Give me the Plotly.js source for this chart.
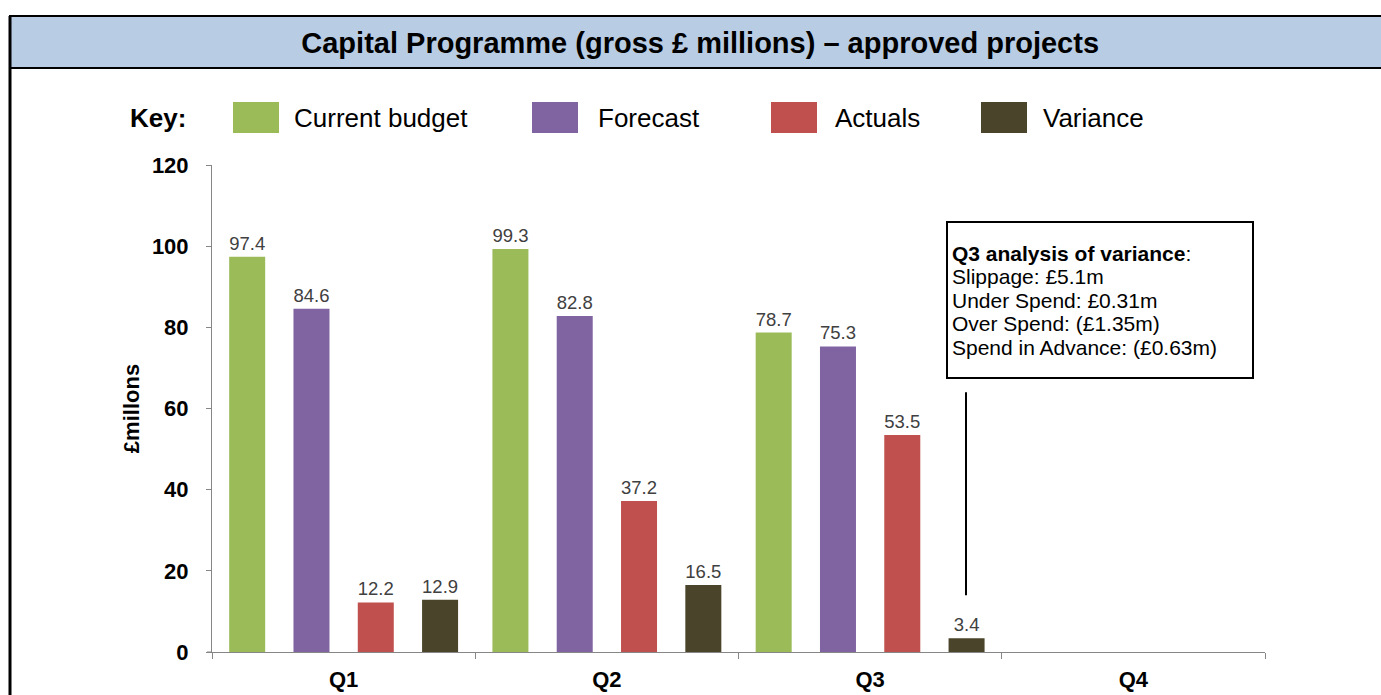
<!DOCTYPE html>
<html>
<head>
<meta charset="utf-8">
<script src="https://cdn.plot.ly/plotly-3.0.1.min.js"></script>
<style>
html,body{margin:0;padding:0;background:#fff;}
#chart{width:1381px;height:695px;}
</style>
</head>
<body>
<div id="chart"></div>
<script>
// ---- data ----
const quarters = ['Q1', 'Q2', 'Q3', 'Q4'];
const seriesNames = ['Current budget', 'Forecast', 'Actuals', 'Variance'];
const seriesColors = ['#9BBB59', '#8064A2', '#C0504D', '#4A452A'];
const currentBudget = [97.4, 99.3, 78.7, null];
const forecast = [84.6, 82.8, 75.3, null];
const actuals = [12.2, 37.2, 53.5, null];
const variance = [12.9, 16.5, 3.4, null];
const yTicks = [0, 20, 40, 60, 80, 100, 120];
const titleText = 'Capital Programme (gross £ millions) – approved projects';
const yTitle = '£millons';
const noteLines = ['<b>Q3 analysis of variance</b>:', 'Slippage: £5.1m', 'Under Spend: £0.31m', 'Over Spend: (£1.35m)', 'Spend in Advance: (£0.63m)'];

const seriesValues = [currentBudget, forecast, actuals, variance];
const FONT = 'Arial, "Liberation Sans", sans-serif';

// layout geometry (pixel helpers)
const W = 1381, H = 695;
const mL = 212, mR = 116, mT = 165, mB = 43;
const pw = W - mL - mR, ph = H - mT - mB;
const px = v => (v - mL) / pw;          // pixel x -> paper
const py = v => (H - mB - v) / ph;      // pixel y -> paper

const traces = seriesNames.map((name, i) => ({
  type: 'bar',
  name: name,
  x: quarters,
  y: seriesValues[i],
  marker: {color: seriesColors[i], line: {width: 0}},
  text: seriesValues[i].map(v => v == null ? '' : v.toFixed(1)),
  textposition: 'outside',
  textfont: {family: FONT, size: 18.5, color: '#404040'},
  constraintext: 'none',
  cliponaxis: false,
  hoverinfo: 'none'
}));

const shapes = [
  // title bar
  {type: 'rect', xref: 'paper', yref: 'paper', x0: px(10), x1: px(1400), y0: py(68), y1: py(16),
   fillcolor: '#B8CCE4', line: {color: '#000', width: 2}, layer: 'below'},
  // left border
  {type: 'line', xref: 'paper', yref: 'paper', x0: px(10), x1: px(10), y0: py(16), y1: py(700),
   line: {color: '#000', width: 3}},
  // note box
  {type: 'rect', xref: 'paper', yref: 'paper', x0: px(947), x1: px(1253), y0: py(378), y1: py(222),
   fillcolor: '#fff', line: {color: '#000', width: 2}},
  // pointer line to Q3 variance
  {type: 'line', xref: 'paper', yref: 'y', x0: px(966), x1: px(966), y0: 14, y1: 64,
   line: {color: '#000', width: 2}},
  // x-axis stub left of y axis
  {type: 'line', xref: 'paper', yref: 'paper', x0: px(207), x1: px(212), y0: 0, y1: 0,
   line: {color: '#868686', width: 1}}
];

const annotations = [
  {xref: 'paper', yref: 'paper', x: px(188), y: py(118), xanchor: 'right', yanchor: 'middle',
   text: '<b>Key:</b>', showarrow: false, font: {family: FONT, size: 26, color: '#000'}}
];

// note lines
const noteY = [253, 276.5, 300, 323.5, 347];
noteLines.forEach((t, i) => {
  annotations.push({xref: 'paper', yref: 'paper', x: px(950), y: py(noteY[i]),
    xanchor: 'left', yanchor: 'middle', text: t, align: 'left', showarrow: false,
    font: {family: FONT, size: 21, color: '#000'}});
});

// key swatches and labels
const keySwatchX = [233, 532, 771, 981];
const keyTextX = [292, 596, 833, 1041];
seriesNames.forEach((name, i) => {
  shapes.push({type: 'rect', xref: 'paper', yref: 'paper',
    x0: px(keySwatchX[i]), x1: px(keySwatchX[i] + 46), y0: py(133), y1: py(102),
    fillcolor: seriesColors[i], line: {width: 0}});
  annotations.push({xref: 'paper', yref: 'paper', x: px(keyTextX[i]), y: py(118),
    xanchor: 'left', yanchor: 'middle', text: name, showarrow: false,
    font: {family: FONT, size: 26, color: '#000'}});
});

const layout = {
  width: W, height: H,
  margin: {l: mL, r: mR, t: mT, b: mB, pad: 0},
  paper_bgcolor: '#fff', plot_bgcolor: '#fff',
  title: {text: '<b>' + titleText + '</b>', xref: 'container', yref: 'container',
    x: 0.507, y: 1 - 43 / H, xanchor: 'center', yanchor: 'middle',
    font: {family: FONT, size: 29, color: '#000'}},
  showlegend: false,
  barmode: 'group',
  bargap: 0.023,
  bargroupgap: 0.44,
  xaxis: {
    type: 'category', categoryorder: 'array', categoryarray: quarters,
    range: [-0.5, 3.5], showline: true, linecolor: '#868686', linewidth: 1,
    ticks: 'outside', tickson: 'boundaries', ticklen: 6, tickcolor: '#868686',
    showgrid: false, zeroline: false,
    tickfont: {family: FONT, size: 22, color: '#000', weight: 'bold'},
    ticklabelstandoff: 8,
    fixedrange: true
  },
  yaxis: {
    range: [0, 120], tickvals: yTicks, ticktext: yTicks.map(String),
    showline: true, linecolor: '#868686', linewidth: 1,
    ticks: 'outside', ticklen: 5, tickcolor: '#868686',
    showgrid: false, zeroline: false,
    tickfont: {family: FONT, size: 22, color: '#000', weight: 'bold'},
    ticklabelstandoff: 13,
    title: {text: '<b>' + yTitle + '</b>', standoff: 6,
      font: {family: FONT, size: 22, color: '#000'}},
    automargin: false,
    fixedrange: true
  },
  shapes: shapes,
  annotations: annotations
};

Plotly.newPlot('chart', traces, layout, {displayModeBar: false, staticPlot: true});
</script>
</body>
</html>
